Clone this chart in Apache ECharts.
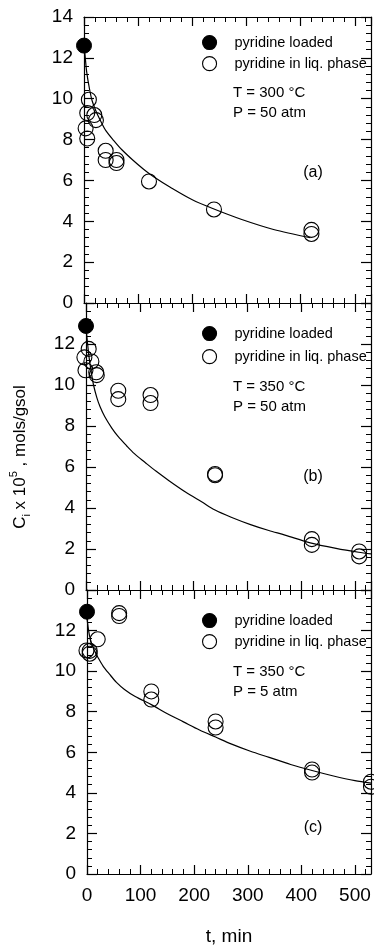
<!DOCTYPE html>
<html>
<head>
<meta charset="utf-8">
<script src="https://cdn.jsdelivr.net/npm/echarts@6/dist/echarts.min.js"></script>
<style>
  html, body { margin: 0; padding: 0; background: #fff; }
  #chart { width: 374px; height: 947px; }
</style>
</head>
<body>
<div id="chart"></div>
<script>
// (a) T = 300 °C, P = 50 atm
var loadedA_t = [0];
var loadedA_c = [12.6];
var liqA_t = [9, 6, 3, 6, 19, 22, 40, 40, 60, 60, 120, 240, 420, 420];
var liqA_c = [9.95, 9.3, 8.55, 8.05, 9.2, 8.95, 7.45, 7.0, 7.0, 6.85, 5.95, 4.58, 3.58, 3.38];
var fitA_t = [0, 2, 5, 10, 15, 22, 30, 40, 55, 70, 90, 110, 130, 160, 200, 240, 290, 350, 418];
var fitA_c = [12.6, 12.1, 11.3, 10.5, 9.9, 9.4, 8.95, 8.45, 7.95, 7.5, 7.0, 6.55, 6.15, 5.65, 5.05, 4.6, 4.1, 3.6, 3.2];

// (b) T = 350 °C, P = 50 atm
var loadedB_t = [0];
var loadedB_c = [12.88];
var liqB_t = [-3, -1, 5, 10, 19, 20, 60, 60, 120, 120, 240, 240, 420, 420, 508, 508];
var liqB_c = [11.35, 10.72, 11.76, 11.15, 10.62, 10.48, 9.72, 9.31, 9.51, 9.12, 5.66, 5.6, 2.48, 2.2, 1.88, 1.64];
var fitB_t = [0, 3, 6, 10, 14, 20, 26, 35, 48, 60, 75, 90, 110, 130, 155, 185, 215, 240, 270, 306, 340, 370, 417, 465, 507, 530];
var fitB_c = [12.8, 12.0, 11.3, 10.6, 10.0, 9.4, 8.95, 8.45, 7.9, 7.48, 7.05, 6.65, 6.22, 5.8, 5.32, 4.78, 4.3, 3.9, 3.55, 3.19, 2.9, 2.68, 2.3, 2.03, 1.84, 1.76];

// (c) T = 350 °C, P = 5 atm
var loadedC_t = [0];
var loadedC_c = [12.93];
var liqC_t = [-1, 5, 5, 20, 60, 60, 120, 120, 240, 240, 420, 420, 530, 530];
var liqC_c = [11.02, 11.0, 10.86, 11.57, 12.86, 12.72, 9.0, 8.6, 7.52, 7.22, 5.15, 5.0, 4.55, 4.3];
var fitC_t = [0, 3, 6, 10, 15, 20, 30, 42, 55, 70, 90, 120, 150, 180, 210, 240, 270, 305, 340, 380, 420, 460, 500, 530];
var fitC_c = [12.6, 12.0, 11.6, 11.25, 10.95, 10.7, 10.25, 9.85, 9.45, 9.1, 8.75, 8.35, 7.9, 7.5, 7.1, 6.75, 6.4, 6.05, 5.75, 5.4, 5.1, 4.83, 4.6, 4.48];

var xMajorTicks = [0, 100, 200, 300, 400, 500];

var FONT = '"Liberation Sans", Arial, sans-serif';
var LOADED = 'pyridine loaded';
var LIQ = 'pyridine in liq. phase';

function zip(xs, ys) {
  return xs.map(function (x, i) { return [x, ys[i]]; });
}

var panels = [
  { left: 84, top: 17, height: 286, loaded: zip(loadedA_t, loadedA_c), liq: zip(liqA_t, liqA_c), fit: zip(fitA_t, fitA_c),
    legendTop: 35, gap: 6, T: 'T = 300 °C', P: 'P = 50 atm', tY: 93, tag: '(a)', tagY: 173 },
  { left: 86, top: 303, height: 287, loaded: zip(loadedB_t, loadedB_c), liq: zip(liqB_t, liqB_c), fit: zip(fitB_t, fitB_c),
    legendTop: 326, gap: 8, T: 'T = 350 °C', P: 'P = 50 atm', tY: 387, tag: '(b)', tagY: 477 },
  { left: 87, top: 590, height: 286, loaded: zip(loadedC_t, loadedC_c), liq: zip(liqC_t, liqC_c), fit: zip(fitC_t, fitC_c),
    legendTop: 613, gap: 6, T: 'T = 350 °C', P: 'P = 5 atm', tY: 672, tag: '(c)', tagY: 828 }
];

var lineStyle = { color: '#000', width: 1.2 };

var grids = [], xAxes = [], yAxes = [], series = [], legends = [], graphics = [];

panels.forEach(function (p, i) {
  var last = i === panels.length - 1;
  grids.push({ left: p.left, right: 3, top: p.top, height: p.height });

  ['bottom', 'top'].forEach(function (pos) {
    // major ticks every 100
    xAxes.push({
      type: 'value', gridIndex: i, position: pos, min: 0, max: 530, interval: 100,
      axisLine: { show: true, onZero: false, lineStyle: lineStyle },
      axisTick: { show: true, inside: true, length: 9, lineStyle: lineStyle },
      splitLine: { show: false },
      axisLabel: {
        show: last && pos === 'bottom', margin: 12, showMaxLabel: false,
        color: '#000', fontSize: 19, fontFamily: FONT,
        formatter: function (v) { return xMajorTicks.indexOf(v) >= 0 ? String(v) : ''; }
      },
      name: last && pos === 'bottom' ? 't, min' : '',
      nameLocation: 'middle', nameGap: 53,
      nameTextStyle: { color: '#000', fontSize: 19, fontFamily: FONT }
    });
    // minor ticks every 20
    xAxes.push({
      type: 'value', gridIndex: i, position: pos, min: 0, max: 530, interval: 20,
      axisLine: { show: false, onZero: false },
      axisTick: { show: true, inside: true, length: 5, lineStyle: { color: '#000', width: 1 } },
      splitLine: { show: false },
      axisLabel: { show: false }
    });
  });

  ['left', 'right'].forEach(function (pos) {
    yAxes.push({
      type: 'value', gridIndex: i, position: pos, min: 0, max: 14, interval: 2,
      axisLine: { show: true, onZero: false, lineStyle: lineStyle },
      axisTick: { show: true, inside: true, length: 10, lineStyle: lineStyle },
      minorTick: { show: true, splitNumber: 5, length: 5, lineStyle: { color: '#000', width: 1 } },
      splitLine: { show: false },
      minorSplitLine: { show: false },
      axisLabel: {
        show: pos === 'left', margin: 11, color: '#000', fontSize: 19, fontFamily: FONT,
        formatter: function (v) { return (i > 0 && v === 14) ? '' : String(v); }
      }
    });
  });

  var xi = i * 4, yi = i * 2;
  series.push({
    name: 'fit', type: 'line', xAxisIndex: xi, yAxisIndex: yi, data: p.fit,
    showSymbol: false, smooth: 0.3, silent: true, clip: false,
    lineStyle: { color: '#000', width: 1.2 }, z: 1
  });
  series.push({
    name: LOADED, type: 'scatter', xAxisIndex: xi, yAxisIndex: yi, data: p.loaded,
    symbol: 'circle', symbolSize: 15, clip: false,
    itemStyle: { color: '#000', borderColor: '#000', borderWidth: 1, opacity: 1 }, z: 3
  });
  series.push({
    name: LIQ, type: 'scatter', xAxisIndex: xi, yAxisIndex: yi, data: p.liq,
    symbol: 'circle', symbolSize: 15, clip: false,
    itemStyle: { color: 'rgba(255,255,255,0)', borderColor: '#000', borderWidth: 1.1, opacity: 1 }, z: 3
  });

  legends.push({
    data: [LOADED, LIQ], orient: 'vertical', left: 202, top: p.legendTop, padding: 0,
    itemWidth: 40, itemHeight: 14, itemGap: p.gap, icon: 'circle', selectedMode: false,
    itemStyle: { borderWidth: 1.1 },
    textStyle: { color: '#000', fontSize: 14.5, lineHeight: 14, fontFamily: FONT }
  });

  graphics.push({ type: 'text', x: 233, y: p.tY, style: { text: p.T, fill: '#000', fontSize: 15, fontFamily: FONT, verticalAlign: 'middle' } });
  graphics.push({ type: 'text', x: 233, y: p.tY + 20, style: { text: p.P, fill: '#000', fontSize: 15, fontFamily: FONT, verticalAlign: 'middle' } });
  graphics.push({ type: 'text', x: 313, y: p.tagY, style: { text: p.tag, fill: '#000', fontSize: 16, fontFamily: FONT, align: 'center', verticalAlign: 'middle' } });
});

graphics.push({
  type: 'text', x: 20, y: 457, rotation: Math.PI / 2,
  style: {
    text: 'C{sub|i} x 10{sup|5} , mols/gsol',
    fill: '#000', fontSize: 17, fontFamily: FONT, lineHeight: 24,
    align: 'center', verticalAlign: 'middle',
    rich: {
      sub: { fontSize: 11, fontFamily: FONT, verticalAlign: 'bottom', lineHeight: 24 },
      sup: { fontSize: 11, fontFamily: FONT, verticalAlign: 'top', lineHeight: 24 }
    }
  }
});

var chart = echarts.init(document.getElementById('chart'), null, { renderer: 'canvas' });
chart.setOption({
  backgroundColor: '#fff',
  animation: false,
  grid: grids,
  xAxis: xAxes,
  yAxis: yAxes,
  legend: legends,
  series: series,
  graphic: graphics
});
</script>
</body>
</html>
